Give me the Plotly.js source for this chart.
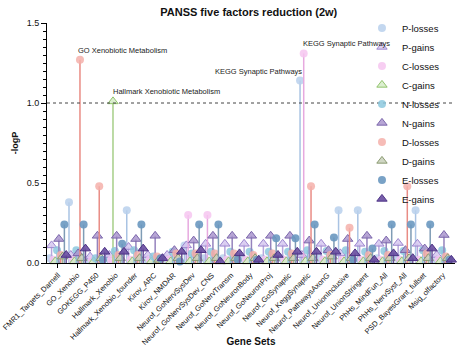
<!DOCTYPE html>
<html>
<head>
<meta charset="utf-8">
<script src="https://cdn.plot.ly/plotly-3.0.1.min.js"></script>
<style>html,body{margin:0;padding:0;background:#fff;}#chart{width:465px;height:347px;}</style>
</head>
<body>
<div id="chart"></div>
<script>
var categories = ["FMR1_Targets_Darnell","GO_Xenobio","GOKEGG_P450","Hallmark_Xenobio","Hallmark_Xenobio_founder","Kirov_ARC","Kirov_NMDAR","Neurof_GoNervSysDev","Neurof_GoNervSysDev_CNS","Neurof_GoNervTransm","Neurof_GoNeuronBody","Neurof_GoNeuronProj","Neurof_GoSynaptic","Neurof_KeggSynaptic","Neurof_PathwaysAxonG","Neurof_UnionInclusive","Neurof_UnionStringent","PhHs_MindFun_All","PhHs_NervSyst_All","PSD_BayesGrant_fullset","Msig_olfactory"];
var seriesNames = ["P-losses","P-gains","C-losses","C-gains","N-losses","N-gains","D-losses","D-gains","E-losses","E-gains"];

var pLosses = [0.03,0.38,0.02,0.03,0.33,0.02,0.03,0.11,0.03,0.03,0.03,0.03,0.03,1.14,0.03,0.33,0.33,0.03,0.04,0.33,0.02];
var pGains  = [0.11,0.05,0.04,0.05,0.10,0.05,0.05,0.11,0.12,0.12,0.12,0.12,0.12,0.05,0.12,0.06,0.12,0.12,0.125,0.12,0.05];
var cLosses = [0.02,0.02,0.02,0.02,0.02,0.02,0.02,0.30,0.30,0.02,0.02,0.02,0.02,1.31,0.02,0.02,0.02,0.02,0.02,0.02,0.02];
var cGains  = [0.01,0.01,0.01,1.01,0.01,0.01,0.01,0.01,0.01,0.01,0.01,0.01,0.01,0.01,0.01,0.01,0.01,0.01,0.01,0.01,0.01];
var nLosses = [0.08,0.08,0.03,0.075,0.08,0.04,0.07,0.06,0.07,0.07,0.07,0.07,0.07,0.08,0.075,0.08,0.07,0.075,0.075,0.08,0.08];
var nGains  = [0.15,0.06,0.17,0.17,0.15,0.17,0.08,0.14,0.17,0.17,0.17,0.17,0.17,0.14,0.08,0.15,0.17,0.14,0.08,0.09,0.175];
var dLosses = [0.05,1.27,0.48,0.05,0.05,0.04,0.06,0.06,0.06,0.06,0.05,0.06,0.06,0.48,0.05,0.22,0.05,0.05,0.48,0.06,0.04];
var dGains  = [0.04,0.03,0.03,0.03,0.03,0.02,0.03,0.03,0.03,0.03,0.03,0.03,0.03,0.03,0.04,0.03,0.03,0.03,0.03,0.03,0.03];
var eLosses = [0.24,0.24,0.02,0.12,0.24,0.03,0.01,0.24,0.24,0.02,0.02,0.155,0.155,0.24,0.16,0.02,0.09,0.24,0.24,0.24,0.02];
var eGains  = [0.05,0.09,0.07,0.07,0.09,0.03,0.07,0.08,0.01,0.06,0.02,0.05,0.07,0.07,0.07,0.06,0.02,0.06,0.03,0.09,0.02];

var allValues = [pLosses,pGains,cLosses,cGains,nLosses,nGains,dLosses,dGains,eLosses,eGains];

var styles = [
  {sym:"circle",   fill:"rgba(184,208,236,0.85)", edge:"rgba(184,208,236,0.85)", stem:"#a9c3e3"},
  {sym:"triangle-up", fill:"rgba(214,200,240,0.85)", edge:"#9d86cf", stem:"#b7a6dc"},
  {sym:"circle",   fill:"rgba(246,198,240,0.85)", edge:"rgba(246,198,240,0.85)", stem:"#e7a9df"},
  {sym:"triangle-up", fill:"rgba(214,236,200,0.85)", edge:"#91c36c", stem:"#a6cf88"},
  {sym:"circle",   fill:"rgba(140,200,222,0.85)", edge:"rgba(140,200,222,0.85)", stem:"#8cc0d6"},
  {sym:"triangle-up", fill:"rgba(170,150,206,0.85)", edge:"#7b66ab", stem:"#9583bd"},
  {sym:"circle",   fill:"rgba(244,176,170,0.85)", edge:"rgba(244,176,170,0.85)", stem:"#e98c85"},
  {sym:"triangle-up", fill:"rgba(200,208,186,0.85)", edge:"#8a9a70", stem:"#a7b292"},
  {sym:"circle",   fill:"rgba(106,152,192,0.9)", edge:"rgba(106,152,192,0.9)", stem:"#7f9cb5"},
  {sym:"triangle-up", fill:"rgba(104,76,160,0.9)", edge:"#4d3286", stem:"#6a569a"}
];

var step = 0.095;
var traces = [];
for (var s = 0; s < seriesNames.length; s++) {
  var vals = allValues[s];
  var xs = [], zeros = [];
  for (var i = 0; i < categories.length; i++) { xs.push(i + (s - 4.5) * step); zeros.push(0); }
  var st = styles[s];
  traces.push({
    type: "scatter", mode: "markers", name: seriesNames[s],
    x: xs, y: vals, cliponaxis: false,
    marker: {symbol: st.sym, size: st.sym === "circle" ? 8 : 9, color: st.fill,
             line: {color: st.edge, width: st.sym === "circle" ? 0 : 1}},
    error_y: {type: "data", symmetric: false, array: zeros, arrayminus: vals,
              width: 0, thickness: 1.5, color: st.stem},
    hoverinfo: "skip"
  });
}

var tickIdx = categories.map(function(c, i){ return i; });
var annFont = {family: "Liberation Sans, Arial, sans-serif", size: 7.5, color: "#222"};
function ann(ci, si, text, anchor, xs) {
  return {x: ci + (si - 4.5) * step, y: allValues[si][ci], xref: "x", yref: "y",
          text: text, showarrow: false, xanchor: anchor, yanchor: "bottom",
          xshift: xs, yshift: 3, font: annFont};
}

var layout = {
  width: 465, height: 347,
  margin: {l: 47, r: 10, t: 23, b: 84},
  paper_bgcolor: "#fff", plot_bgcolor: "#fff",
  font: {family: "Liberation Sans, Arial, sans-serif", color: "#111"},
  title: {text: "<b>PANSS five factors reduction (2w)</b>", font: {size: 11, color: "#111"},
          x: 0.535, xanchor: "center", y: 0.965, yanchor: "middle"},
  showlegend: true,
  legend: {x: 0.772, y: 1.04, xanchor: "left", yanchor: "top", bgcolor: "rgba(0,0,0,0)",
           font: {size: 9.5, color: "#111"}, itemwidth: 30, maxheight: 600},
  xaxis: {range: [-0.57, 20.62], tickmode: "array", tickvals: tickIdx, ticktext: categories,
          tickangle: -45, tickfont: {size: 7.5, color: "#111"}, showgrid: false, zeroline: false,
          showline: true, linecolor: "#000", linewidth: 1, ticks: "outside", ticklen: 4,
          tickcolor: "#000", automargin: false,
          title: {text: "<b>Gene Sets</b>", font: {size: 10, color: "#111"}, standoff: 0}},
  yaxis: {range: [0, 1.5], tickvals: [0, 0.5, 1.0, 1.5], tickformat: ".1f",
          tickfont: {size: 9, color: "#111"}, showgrid: false, zeroline: false,
          showline: true, linecolor: "#000", linewidth: 1, ticks: "outside", ticklen: 5,
          tickcolor: "#000", automargin: false,
          minor: {dtick: 0.05, ticks: "outside", ticklen: 3, tickcolor: "#000", showgrid: false},
          title: {text: "<b>-logP</b>", font: {size: 9, color: "#111"}, standoff: 6}},
  shapes: [{type: "line", xref: "paper", x0: 0, x1: 1, yref: "y", y0: 1, y1: 1,
            line: {color: "#444", width: 1, dash: "dot"}}],
  annotations: [
    ann(1, 6, "GO Xenobiotic Metabolism", "left", -4),
    ann(3, 3, "Hallmark Xenobiotic Metabolism", "left", -2),
    ann(13, 0, "KEGG Synaptic Pathways", "right", 4),
    ann(13, 2, "KEGG Synaptic Pathways", "left", -3)
  ]
};

Plotly.newPlot("chart", traces, layout, {displayModeBar: false, staticPlot: true});
</script>
</body>
</html>
